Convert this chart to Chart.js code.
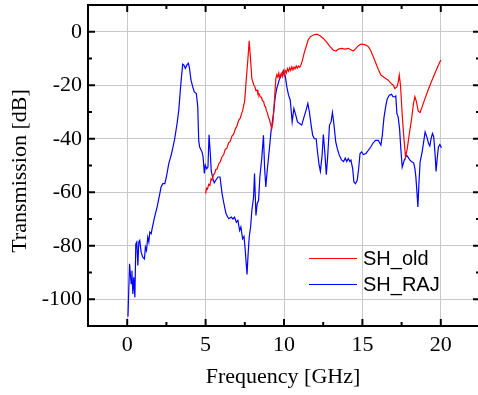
<!DOCTYPE html>
<html>
<head>
<meta charset="utf-8">
<script src="https://cdn.jsdelivr.net/npm/chart.js@4.4.0/dist/chart.umd.min.js"></script>
<style>
html,body{margin:0;padding:0;background:#fff;overflow:hidden;width:478px;height:395px;}
canvas{display:block;}
</style>
</head>
<body>
<canvas id="c" width="480" height="395"></canvas>
<script>
// ---- data ----
const xTicks = [0, 5, 10, 15, 20];
const yTicks = [-100, -80, -60, -40, -20, 0];
const seriesNames = ["SH_old", "SH_RAJ"];

const oldFreq = [5.0,5.06,5.12,5.2,5.28,5.35,5.41,5.5,5.58,5.65,5.73,5.83,5.94,6.04,6.15,6.25,6.36,6.47,6.57,6.68,6.79,6.9,7.0,7.1,7.21,7.3,7.36,7.43,7.49,7.59,7.7,7.78,7.87,7.95,8.08,8.14,8.21,8.28,8.34,8.41,8.48,8.56,8.63,8.7,8.76,8.82,8.88,8.95,9.01,9.08,9.14,9.22,9.29,9.39,9.48,9.55,9.61,9.67,9.72,9.82,9.89,9.95,10.01,10.07,10.15,10.22,10.29,10.36,10.43,10.5,10.57,10.64,10.71,10.78,10.85,10.92,11.0,11.07,11.18,11.28,11.41,11.54,11.67,11.87,12.09,12.3,12.51,12.73,12.94,13.15,13.32,13.47,13.68,13.89,14.1,14.32,14.42,14.59,14.74,14.91,15.06,15.23,15.38,15.53,15.69,15.84,16.01,16.18,16.33,16.48,16.65,16.82,16.97,17.07,17.2,17.28,17.35,17.43,17.54,17.65,17.75,17.86,17.98,18.14,18.26,18.35,18.45,18.56,18.68,18.81,18.98,19.19,19.4,19.62,19.83,20.0];
const oldDb = [-60.5,-58.5,-58.8,-57,-57.3,-55,-55.5,-53.5,-53,-51.5,-51.3,-49.5,-48.5,-46.8,-46,-44,-43.5,-41.5,-41,-39,-38.3,-36.3,-35.2,-33.2,-32.3,-30.5,-29.6,-27.5,-26,-18.1,-10,-3.4,-10.6,-17.5,-20,-20.5,-22,-21.8,-23.3,-23.2,-24.3,-24.5,-25.8,-26,-27.7,-28,-29.5,-30.5,-32,-33,-34.5,-36.2,-34,-25.6,-17.5,-16,-17,-15.5,-17.2,-15.6,-16.8,-14.8,-16.3,-14.4,-15.5,-13.8,-14.8,-13.5,-14.5,-13.1,-14.2,-13.2,-13.8,-12.8,-13.6,-12.8,-13.3,-12.5,-10.6,-8.1,-5.6,-3.1,-1.9,-1.2,-0.9,-1.5,-2.5,-4,-5.6,-6.9,-7.2,-6.5,-6.2,-6.5,-6.2,-6.9,-7.2,-6.2,-5.2,-4.6,-4.7,-5,-5.6,-7,-9.3,-11.5,-14,-16.2,-16.8,-17.5,-18.1,-19.3,-20,-21.2,-20.6,-19,-16.2,-20,-31.2,-40,-46.8,-43.7,-38.7,-32.4,-26.8,-24.3,-26.2,-29.7,-30.2,-28.1,-25.2,-21.8,-18.7,-15.6,-12.7,-10.6];

const rajFreq = [0.05,0.15,0.25,0.3,0.36,0.42,0.49,0.55,0.61,0.68,0.74,0.8,0.89,0.99,1.1,1.16,1.23,1.31,1.38,1.44,1.53,1.59,1.7,1.8,1.91,2.08,2.16,2.27,2.4,2.5,2.65,2.8,2.92,3.03,3.18,3.29,3.39,3.46,3.54,3.62,3.71,3.8,3.9,3.96,4.07,4.18,4.28,4.41,4.5,4.56,4.62,4.77,4.84,4.92,4.98,5.07,5.15,5.22,5.3,5.36,5.47,5.55,5.65,5.79,5.92,6.05,6.17,6.3,6.47,6.64,6.74,6.85,6.96,7.06,7.17,7.25,7.36,7.45,7.53,7.59,7.64,7.7,7.78,7.87,7.95,8.06,8.12,8.21,8.29,8.38,8.46,8.59,8.69,8.76,8.84,8.93,9.06,9.18,9.33,9.44,9.54,9.69,9.82,9.97,10.07,10.18,10.29,10.4,10.52,10.63,10.75,10.86,10.99,11.13,11.28,11.41,11.52,11.62,11.73,11.83,11.94,12.05,12.15,12.24,12.32,12.43,12.51,12.6,12.7,12.79,12.9,13.0,13.09,13.19,13.3,13.4,13.53,13.68,13.8,13.91,14.0,14.1,14.2,14.27,14.38,14.46,14.55,14.67,14.76,14.85,14.95,15.06,15.23,15.38,15.53,15.69,15.84,16.01,16.1,16.18,16.27,16.37,16.48,16.58,16.71,16.86,16.95,17.07,17.13,17.2,17.28,17.37,17.45,17.54,17.67,17.82,17.9,18.03,18.17,18.27,18.35,18.41,18.47,18.54,18.6,18.68,18.81,18.92,19.0,19.11,19.22,19.3,19.38,19.47,19.55,19.64,19.7,19.77,19.85,19.94,20.04];
const rajDb = [-106.5,-86.7,-94.2,-89.3,-98,-91.8,-99.3,-79.3,-78.6,-87.4,-78.6,-78,-82.4,-84.3,-84.9,-80.5,-81.8,-76.8,-78.6,-74.9,-75.5,-73.6,-70.5,-68,-65.5,-60.5,-58,-56.8,-56.8,-54.3,-49.3,-46.2,-43.1,-40,-34.3,-29.3,-21.8,-16.9,-12.1,-12.5,-13.7,-12.5,-11.8,-13.1,-18.1,-20.6,-22.5,-23.1,-28.1,-40.6,-43.1,-44.9,-46.8,-53,-49.9,-51.2,-50.6,-38.5,-45.5,-52,-55,-56.5,-55.5,-54.3,-54.3,-60.5,-64.3,-68,-69.9,-69.3,-70,-69.3,-71.2,-70.5,-74.3,-73,-77.4,-76.5,-81.8,-86.7,-90.7,-84.3,-76.8,-73,-66.8,-61.8,-53,-68.7,-64.3,-63,-54.3,-46.8,-38.7,-50.6,-58,-51.8,-44.3,-36.8,-30.6,-24.3,-21.2,-18.1,-16.2,-14.6,-16.2,-20.6,-23.7,-25.6,-33.7,-28.7,-31.2,-33.7,-34.3,-34.9,-31.8,-29.3,-26.8,-30,-34.9,-38.7,-40,-40,-45.5,-49.9,-52.2,-46.2,-38.4,-44.9,-53.4,-46.2,-34.9,-33.7,-30.2,-34.9,-41.2,-43.7,-46.2,-48,-48.5,-47.2,-48.5,-47.4,-48.5,-48,-51.2,-56.2,-56.8,-55.5,-51.2,-45.5,-44.9,-45.9,-45.5,-44.3,-43.1,-41.5,-40.6,-40.6,-41.5,-42.4,-38.7,-32.4,-28.1,-25.2,-23.7,-23.4,-24.3,-24.3,-24,-30.6,-31.8,-36.2,-43.7,-50.6,-48,-46.2,-46.8,-48,-48.7,-49,-51.2,-54.3,-59.3,-65.5,-57.4,-48.7,-44.9,-40.6,-37.5,-39.3,-41.8,-42.7,-40,-38,-39.3,-46.2,-52.2,-47.4,-43.1,-42.2,-43.4];

const toXY = (xs, ys) => xs.map((v, i) => ({x: v, y: ys[i]}));

const SERIF = '"Liberation Serif", "Times New Roman", serif';
const SANS = '"Liberation Sans", Arial, sans-serif';
const colors = ['#ff0000', '#0000ff'];

const framePlugin = {
  id: 'frame',
  afterDraw(chart) {
    const {ctx, chartArea: {left, right, top, bottom}, scales: {x, y}} = chart;
    ctx.save();
    ctx.strokeStyle = '#000';
    ctx.lineWidth = 2;
    ctx.strokeRect(left, top, right - left, bottom - top);
    const seg = (x1, y1, x2, y2) => { ctx.beginPath(); ctx.moveTo(x1, y1); ctx.lineTo(x2, y2); ctx.stroke(); };
    const xStep = (xTicks[1] - xTicks[0]) / 2;
    const yStep = (yTicks[1] - yTicks[0]) / 2;
    for (let v = x.min; v <= x.max + 1e-9; v += xStep) {
      const major = xTicks.includes(Math.round(v * 100) / 100);
      const len = major ? 7 : 4;
      const px = x.getPixelForValue(v);
      seg(px, bottom, px, bottom - len);
      seg(px, top, px, top + len);
    }
    for (let v = y.min; v <= y.max + 1e-9; v += yStep) {
      const major = yTicks.includes(Math.round(v));
      const len = major ? 7 : 4;
      const py = y.getPixelForValue(v);
      seg(left, py, left + len, py);
      seg(right, py, right - len, py);
    }
    // axis titles
    ctx.fillStyle = '#000';
    ctx.font = '22px ' + SERIF;
    ctx.textAlign = 'center';
    ctx.textBaseline = 'alphabetic';
    ctx.fillText('Frequency [GHz]', 283, 383);
    ctx.save();
    ctx.translate(26, 171);
    ctx.rotate(-Math.PI / 2);
    ctx.fillText('Transmission [dB]', 0, 0);
    ctx.restore();
    // legend
    ctx.font = '20px ' + SANS;
    ctx.textAlign = 'left';
    ctx.textBaseline = 'middle';
    const ly = [258.5, 284.5];
    seriesNames.forEach((n, i) => {
      ctx.strokeStyle = colors[i];
      ctx.lineWidth = 1.2;
      seg(309, ly[i], 357, ly[i]);
      ctx.fillText(n, 363, ly[i] + 1);
    });
    ctx.restore();
  }
};

new Chart(document.getElementById('c'), {
  type: 'line',
  data: {
    datasets: [
      {label: seriesNames[0], data: toXY(oldFreq, oldDb), borderColor: colors[0], borderWidth: 1.2, pointRadius: 0, tension: 0, fill: false},
      {label: seriesNames[1], data: toXY(rajFreq, rajDb), borderColor: colors[1], borderWidth: 1.2, pointRadius: 0, tension: 0, fill: false}
    ]
  },
  options: {
    responsive: false,
    animation: false,
    devicePixelRatio: 1,
    layout: {padding: {left: 0, right: 0, top: 5, bottom: 0}},
    plugins: {legend: {display: false}, tooltip: {enabled: false}},
    scales: {
      x: {
        type: 'linear', min: -2.5, max: 22.5,
        afterBuildTicks: s => { s.ticks = xTicks.map(v => ({value: v})); },
        afterFit: s => { s.height = 69; s.paddingLeft = 0; s.paddingRight = 0; },
        grid: {color: '#c8c8c8', lineWidth: 1, drawTicks: false},
        border: {display: false},
        ticks: {color: '#000', font: {family: SERIF, size: 22}, padding: 6, maxRotation: 0}
      },
      y: {
        type: 'linear', min: -110, max: 10,
        afterBuildTicks: s => { s.ticks = yTicks.map(v => ({value: v})); },
        afterFit: s => { s.width = 88; s.paddingTop = 0; s.paddingBottom = 0; },
        grid: {color: '#c8c8c8', lineWidth: 1, drawTicks: false},
        border: {display: false},
        ticks: {color: '#000', font: {family: SERIF, size: 22}, padding: 6}
      }
    }
  },
  plugins: [framePlugin]
});
</script>
</body>
</html>
